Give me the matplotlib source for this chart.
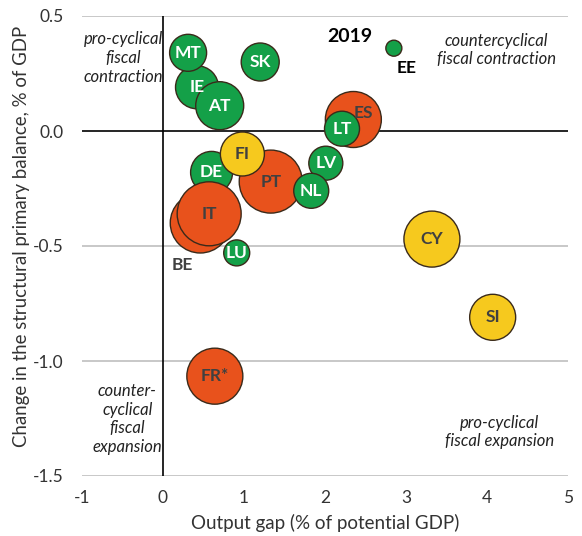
import matplotlib
matplotlib.use("Agg")
import matplotlib.pyplot as plt
import numpy as np

plt.rcParams['font.family'] = ['Lato', 'DejaVu Sans']

# ---- data ----
countries = ["DE", "IE", "MT", "AT", "SK", "BE", "IT", "ES", "LT", "PT",
             "LV", "NL", "LU", "EE", "FR*", "FI", "CY", "SI"]
output_gap = [0.60, 0.42, 0.31, 0.70, 1.20, 0.46, 0.57, 2.35, 2.21, 1.33,
              2.01, 1.83, 0.91, 2.85, 0.64, 0.98, 3.32, 4.07]
change_spb = [-0.18, 0.19, 0.34, 0.11, 0.30, -0.40, -0.36, 0.05, 0.01, -0.22,
              -0.14, -0.26, -0.53, 0.36, -1.066, -0.10, -0.47, -0.81]
bubble_size = [21, 21.5, 18.5, 24, 19, 30, 32, 28, 17.5, 31.5,
               17, 17.5, 13, 8, 28, 22, 28, 23]
group = ["g", "g", "g", "g", "g", "o", "o", "o", "g", "o",
         "g", "g", "g", "g", "o", "y", "y", "y"]

xticks = [-1, 0, 1, 2, 3, 4, 5]
yticks = [-1.5, -1.0, -0.5, 0.0, 0.5]

colors = {"g": "#14A048", "o": "#E8521C", "y": "#F6C91E"}
text_colors = {"g": "white", "o": "#404040", "y": "#404040"}

fig = plt.figure(figsize=(5.82, 5.36), dpi=100)
ax = fig.add_axes([82 / 582, 60 / 536, (568 - 82) / 582, (476 - 16) / 536])

ax.set_xlim(-1, 5)
ax.set_ylim(-1.5, 0.5)
ax.set_xticks(xticks)
ax.set_yticks(yticks)
ax.set_xticklabels([f"{t:g}" for t in xticks])
ax.set_yticklabels([f"{t:.1f}" for t in yticks])
ax.tick_params(length=0, labelsize=12.5, colors="#333333")
ax.tick_params(axis="x", pad=10)
ax.tick_params(axis="y", pad=13)
for s in ax.spines.values():
    s.set_visible(False)

for yv in yticks:
    if yv != 0:
        ax.axhline(yv, color="#BFBFBF", lw=1.2, zorder=0)
ax.axhline(0, color="black", lw=1.2, zorder=1)
ax.axvline(0, color="black", lw=1.2, zorder=1)

sizes = [(2 * r * 0.72) ** 2 for r in bubble_size]
cols = [colors[g] for g in group]
ax.scatter(output_gap, change_spb, s=sizes, c=cols, edgecolors="#3A2A1A",
           linewidths=1.0, zorder=3)

for c, x, y, g in zip(countries, output_gap, change_spb, group):
    if c == "EE":
        ax.annotate("EE", (x, y), xytext=(9, -14), textcoords="offset points",
                    ha="center", va="center", fontsize=12.5, fontweight="bold",
                    color="black", zorder=5)
    elif c == "BE":
        ax.annotate("BE", (x, y), xytext=(-13, -30), textcoords="offset points",
                    ha="center", va="center", fontsize=12.5, fontweight="bold",
                    color="#404040", zorder=5)
    elif c == "ES":
        ax.annotate("ES", (x, y), xytext=(7, 5), textcoords="offset points",
                    ha="center", va="center", fontsize=12.5, fontweight="bold",
                    color="#404040", zorder=5)
    else:
        ax.text(x, y, c, ha="center", va="center", fontsize=12.5,
                fontweight="bold", color=text_colors[g], zorder=5)

ax.text(2.31, 0.413, "2019", ha="center", va="center", fontsize=14,
        fontweight="bold", color="black")
ital = dict(ha="center", va="center", fontsize=12, style="italic",
            color="#222222", linespacing=1.2)
ax.text(-0.49, 0.317, "pro-cyclical\nfiscal\ncontraction", **ital)
ax.text(4.12, 0.352, "countercyclical\nfiscal contraction", **ital)
ax.text(-0.44, -1.252, "counter-\ncyclical\nfiscal\nexpansion", **ital)
ax.text(4.15, -1.309, "pro-cyclical\nfiscal expansion", **ital)

ax.set_xlabel("Output gap (% of potential GDP)", fontsize=13.5, color="#333333")
ax.set_ylabel("Change in the structural primary balance, % of GDP",
              fontsize=13.4, color="#333333")
ax.xaxis.set_label_coords(0.5, -0.082)
ax.yaxis.set_label_coords(-0.107, 0.52)

fig.savefig("out.png", dpi=100)
